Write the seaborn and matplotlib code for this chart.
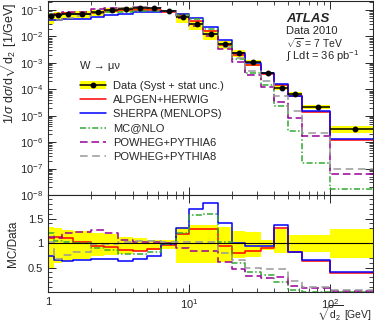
import matplotlib
matplotlib.use("Agg")
import matplotlib.pyplot as plt
import seaborn as sns
import pandas as pd
import numpy as np
from matplotlib.lines import Line2D
from matplotlib.patches import Patch
from matplotlib.ticker import (LogLocator, FixedLocator, FixedFormatter,
                               MultipleLocator, NullFormatter, LogFormatterSciNotation)

# bin edges of sqrt(d2) [GeV]
edges = [1, 1.1, 1.25, 1.5, 2, 2.5, 3.15, 4, 5, 6.3, 8, 10, 12.6, 16, 20, 25,
         32, 40, 50, 63, 100, 200]

# normalised data, 1/sigma dsigma/dsqrt(d2)
data = [0.059, 0.063, 0.069, 0.072, 0.084, 0.100, 0.112, 0.122, 0.116, 0.092,
        0.056, 0.029, 0.0124, 0.0052, 0.0024, 0.00104, 4.3e-4, 1.15e-4, 6.8e-5,
        2.2e-5, 3.1e-6]
# relative total uncertainty (upper / lower edge of the band)
unc_up = [1.33, 1.30, 1.27, 1.25, 1.20, 1.18, 1.13, 1.10, 1.07, 1.06, 1.33,
          1.37, 1.37, 1.33, 1.25, 1.23, 1.07, 1.28, 1.16, 1.16, 1.28]
unc_dn = [0.49, 0.59, 0.63, 0.68, 0.74, 0.76, 0.78, 0.83, 0.86, 0.88, 0.60,
          0.59, 0.59, 0.62, 0.69, 0.72, 0.86, 0.80, 0.80, 0.82, 0.69]

# MC / data
ratio_alpgen = [1.11, 1.12, 1.10, 1.02, 0.94, 0.91, 0.86, 0.84, 0.87, 0.95,
                1.19, 1.29, 1.28, 0.93, 0.80, 0.83, 0.90, 1.31, 0.81, 0.64, 0.39]
ratio_sherpa = [0.74, 0.66, 0.64, 0.66, 0.67, 0.67, 0.64, 0.68, 0.74, 0.99,
                1.30, 1.69, 1.81, 1.40, 1.00, 0.93, 0.93, 1.36, 0.82, 0.66, 0.41]
ratio_mcnlo = [1.20, 1.05, 1.03, 1.00, 0.90, 0.86, 0.78, 0.78, 0.82, 0.98,
               1.20, 1.58, 1.60, 1.03, 0.60, 0.41, 0.34, 0.20, 0.04, 0.0072, 0.0055]
ratio_pw6 = [1.13, 1.10, 1.20, 1.22, 1.26, 1.20, 1.06, 1.03, 1.03, 1.00,
             0.90, 0.83, 0.83, 0.62, 0.47, 0.33, 0.29, 0.30, 0.12, 0.08, 0.02]
ratio_pw8 = [1.03, 0.68, 0.75, 0.82, 0.97, 0.99, 1.03, 1.05, 1.05, 1.03,
             1.03, 1.03, 1.03, 0.80, 0.65, 0.48, 0.47, 0.47, 0.23, 0.10, 0.031]

models = ["ALPGEN+HERWIG", "SHERPA (MENLOPS)", "MC@NLO",
          "POWHEG+PYTHIA6", "POWHEG+PYTHIA8"]
ratios = [ratio_alpgen, ratio_sherpa, ratio_mcnlo, ratio_pw6, ratio_pw8]
colors = ["#ff0000", "#0000ff", "#33aa33", "#990099", "#999999"]
dashes = ["", "", (4, 1.5, 1, 1.5), (5, 2.5), (5, 3)]

sns.set_style("ticks")
plt.rcParams["font.family"] = ["Liberation Sans", "DejaVu Sans"]
plt.rcParams["mathtext.fontset"] = "custom"
plt.rcParams["mathtext.rm"] = "Liberation Sans"
plt.rcParams["mathtext.it"] = "Liberation Sans:italic"
plt.rcParams["mathtext.bf"] = "Liberation Sans:bold"
plt.rcParams["font.size"] = 8

# long-format frame for seaborn, last value repeated for steps-post
edges_a = np.array(edges)
data_a = np.array(data)
rows = []
for name, r in zip(models, ratios):
    r = np.array(r)
    for x, rv, mv in zip(edges, np.append(r, r[-1]), np.append(r * data_a, r[-1] * data_a[-1])):
        rows.append({"x": x, "ratio": rv, "mc": mv, "model": name})
df = pd.DataFrame(rows)

W, H = 374, 323
fig = plt.figure(figsize=(W / 100, H / 100), dpi=100)
ax = fig.add_axes([48 / W, 1 - 195 / H, 325 / W, 194 / H])
axr = fig.add_axes([48 / W, 1 - 292 / H, 325 / W, 97 / H], sharex=ax)

for a in (ax, axr):
    a.set_xscale("log")

# data band + MC + data points
ax.set_yscale("log")
ax.stairs(data_a * np.array(unc_up), edges_a, baseline=data_a * np.array(unc_dn),
          fill=True, color="#ffff00", lw=0, zorder=1)
sns.lineplot(data=df, x="x", y="mc", hue="model", style="model", palette=colors,
             dashes=dict(zip(models, dashes)), drawstyle="steps-post",
             estimator=None, lw=1.1, legend=False, ax=ax, zorder=2)
centers = 0.5 * (edges_a[1:] + edges_a[:-1])
ax.errorbar(centers, data_a, xerr=[centers - edges_a[:-1], edges_a[1:] - centers],
            fmt="o", color="black", ms=3.2, lw=1.1, capsize=0, zorder=3)

axr.stairs(np.array(unc_up), edges_a, baseline=np.array(unc_dn),
           fill=True, color="#ffff00", lw=0, zorder=1)
sns.lineplot(data=df, x="x", y="ratio", hue="model", style="model", palette=colors,
             dashes=dict(zip(models, dashes)), drawstyle="steps-post",
             estimator=None, lw=1.1, legend=False, ax=axr, zorder=2)
axr.axhline(1, color="black", lw=0.8, zorder=3)

ax.set_xlim(1, 200)
ax.set_ylim(1e-8, 0.22)
axr.set_ylim(0, 1.98)

# axes cosmetics, ROOT-like inward ticks
for a in (ax, axr):
    a.tick_params(which="both", direction="in", top=True, right=True, labelsize=8)
    a.tick_params(which="major", length=6, width=0.7)
    a.tick_params(which="minor", length=3, width=0.6)
    for s in a.spines.values():
        s.set_linewidth(0.8)
ax.yaxis.set_major_locator(LogLocator(base=10, numticks=15))
ax.yaxis.set_minor_locator(LogLocator(base=10, subs=np.arange(2, 10), numticks=15))
ax.yaxis.set_major_formatter(LogFormatterSciNotation())
ax.yaxis.set_minor_formatter(NullFormatter())
ax.tick_params(axis="x", which="both", labelbottom=False)
axr.xaxis.set_major_locator(FixedLocator([1, 10, 100]))
axr.xaxis.set_major_formatter(FixedFormatter(["1", "$10^1$", "$10^2$"]))
axr.xaxis.set_minor_locator(LogLocator(base=10, subs=np.arange(2, 10), numticks=15))
axr.xaxis.set_minor_formatter(NullFormatter())
axr.yaxis.set_major_locator(FixedLocator([0.5, 1, 1.5]))
axr.yaxis.set_major_formatter(FixedFormatter(["0.5", "1", "1.5"]))
axr.yaxis.set_minor_locator(MultipleLocator(0.1))

ax.set_xlabel("")
ax.set_ylabel(r"1/$\sigma$ d$\sigma$/d$\sqrt{\mathrm{d}_2}$ [1/GeV]", loc="top", fontsize=9)
ax.yaxis.set_label_coords(-0.088, 0.99)
axr.set_ylabel("MC/Data", fontsize=8.5)
axr.yaxis.set_label_coords(-0.088, 0.5)
axr.set_xlabel("")
fig.text(372 / W, 1 - 319 / H, r"$\sqrt{\mathrm{d}_2}$ [GeV]", fontsize=7.5,
         ha="right", va="baseline")

# ATLAS label
fig.text(286 / W, 1 - 19 / H, "ATLAS", fontsize=9.5, fontweight="bold",
         fontstyle="italic", va="center", ha="left")
fig.text(286 / W, 1 - 31 / H, "Data 2010", fontsize=8, va="center")
fig.text(286 / W, 1 - 43 / H, r"$\sqrt{s}$ = 7 TeV", fontsize=7.5, va="center")
fig.text(286 / W, 1 - 56 / H, "\u222b Ldt = 36 pb$^{-1}$", fontsize=8, va="center")

# legend
handles = [(Patch(facecolor="#ffff00", edgecolor="none"),
            Line2D([], [], color="black", marker="o", ms=3.2, lw=1.1))]
for c, d in zip(colors, dashes):
    l = Line2D([], [], color=c, lw=1.1)
    if d:
        l.set_dashes(d)
    handles.append(l)
labels = ["Data (Syst + stat unc.)"] + models
leg = fig.legend(handles, labels, loc="upper left",
                 bbox_to_anchor=(80 / W, 1 - 61 / H), frameon=False,
                 title="W \u2192 \u03bc\u03bd", title_fontsize=8, fontsize=8,
                 alignment="left", handlelength=2.35, handletextpad=0.6,
                 labelspacing=0.38, borderpad=0, borderaxespad=0)
leg._legend_box.sep = 7

fig.savefig("out.png", dpi=100)
